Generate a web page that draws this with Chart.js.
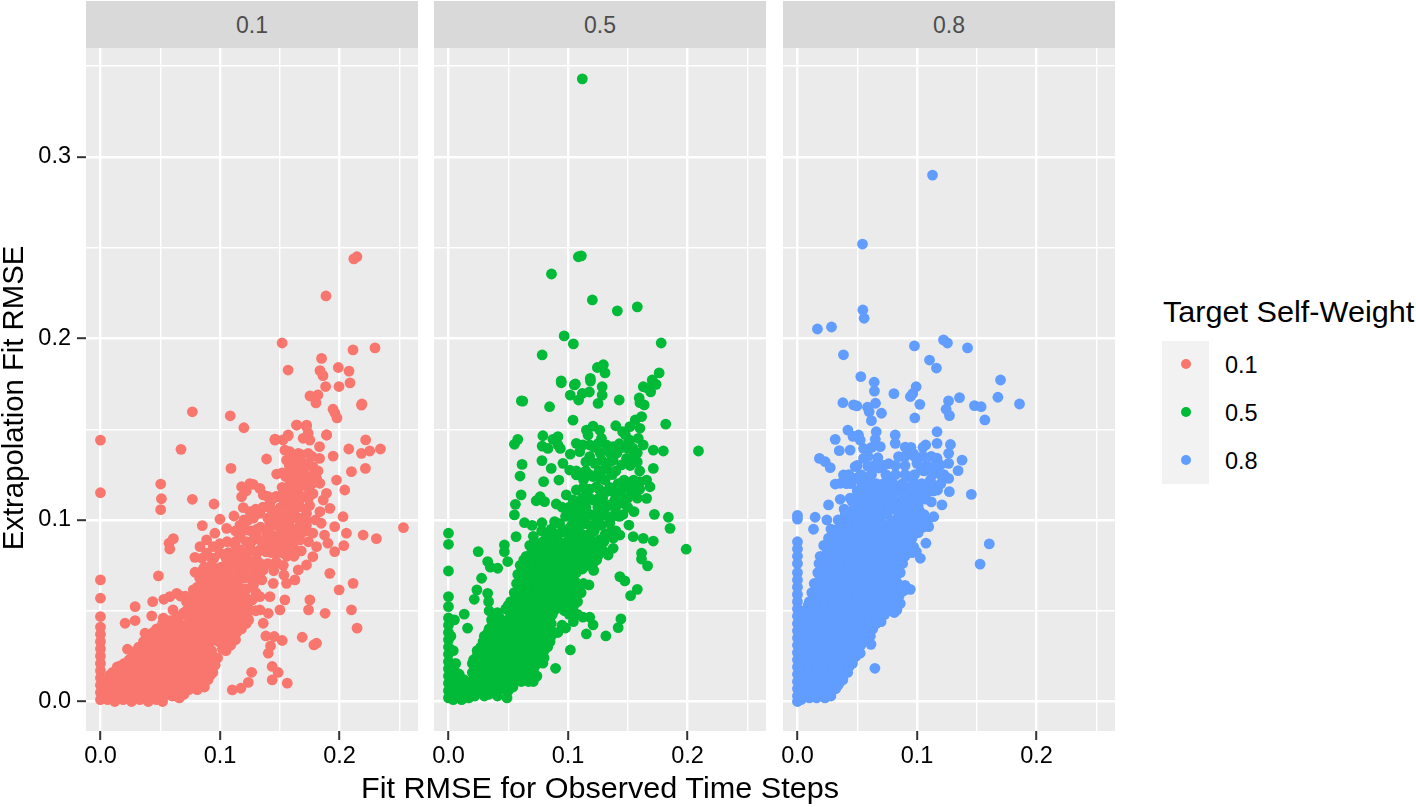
<!DOCTYPE html>
<html>
<head>
<meta charset="utf-8">
<title>Fit RMSE</title>
<script src="https://cdn.jsdelivr.net/npm/chart.js@4"></script>
<style>
    html, body { margin: 0; padding: 0; background: #fff; }
    body { width: 1416px; height: 807px; position: relative; overflow: hidden; font-family: "Liberation Sans", Arial, sans-serif; color: #000; filter: blur(0.45px); }
    canvas { position: absolute; top: 48px; }
    .strip { position: absolute; top: 1px; height: 47px; width: 332px; background: #D9D9D9; color: #4D4D4D; font-size: 23px; line-height: 49px; text-align: center; }
    .title { position: absolute; white-space: nowrap; font-size: 29.3px; line-height: 30px; }
    #legendKeys { position: absolute; left: 1162px; top: 341px; width: 47px; height: 143px; background: #F2F2F2; }
    .dot { position: absolute; left: 19px; width: 10px; height: 10px; border-radius: 50%; }
    .legendLabel { position: absolute; left: 1225px; font-size: 23.5px; line-height: 26px; }
</style>
</head>
<body>
<div class="strip" style="left:86px">0.1</div>
<div class="strip" style="left:434px">0.5</div>
<div class="strip" style="left:783px">0.8</div>
<canvas id="panelA" width="418" height="733" style="left:0"></canvas>
<canvas id="panelB" width="352" height="733" style="left:414px"></canvas>
<canvas id="panelC" width="352" height="733" style="left:763px"></canvas>
<div class="title" id="yTitle" style="left:-140px;top:383px;width:306px;text-align:center;transform:rotate(-90deg)">Extrapolation Fit RMSE</div>
<div class="title" id="xTitle" style="left:300px;top:773px;width:600px;text-align:center;transform:scaleX(1.045)">Fit RMSE for Observed Time Steps</div>
<div class="title" style="left:1163px;top:297px;transform:scaleX(1.045);transform-origin:left">Target Self-Weight</div>
<div id="legendKeys">
    <div class="dot" style="top:18px;background:#F8766D"></div>
    <div class="dot" style="top:66px;background:#00BA38"></div>
    <div class="dot" style="top:114px;background:#619CFF"></div>
</div>
<div class="legendLabel" style="top:352px">0.1</div>
<div class="legendLabel" style="top:400px">0.5</div>
<div class="legendLabel" style="top:448px">0.8</div>

<script>
// Ticks of the facets
const xMajorTicks = [0, 0.1, 0.2];
const xMinorTicks = [0.05, 0.15, 0.25];
const yMajorTicks = [0, 0.1, 0.2, 0.3];
const yMinorTicks = [0.05, 0.15, 0.25, 0.35];

// Points: [fit RMSE, extrapolation RMSE]
const pointsSelf01 = [
[.212,.2438],[.2146,.245],[.1887,.2234],[.152,.1975],[.157,.1826],[.2113,.1937],[.2297,.1948],[.185,.189],[.199,.184],[.208,.182],[.1837,.1823],[.1862,.1795],[.1884,.1735],[.1996,.1735],[.2088,.1755],[.1753,.1683],[.182,.1689],[.1803,.1645],[.2188,.1639],[.1946,.161],[.1962,.1589],[.1979,.1562],[.146,.1445],[.1527,.1441],[.1569,.1463],[.1642,.1523],[.1725,.1523],[.1893,.1468],[.2219,.1441],
[0,.144],[0,.115],[.0769,.1596],[.0674,.1389],[.1086,.1574],[.12,.1508],[.1092,.1284],[.139,.1336],[.0504,.1198],[.051,.1117],[.0504,.1057],[.0769,.1114],[.095,.1088],[.1,.1004],[.0852,.0969],[.1117,.1022],
[.061,.0897],[.0574,.0872],[.058,.084],[.0485,.0692],[0,.067],[0,.0569],[.0,.0468],[.029,.0523],[.0437,.055],[.0206,.0431],[.029,.0446],[.0429,.0472],[.0226,.0288],[.017,.0198],
[.2535,.0958],[.2309,.0897],[.2198,.0917],[.2058,.0927],[.2036,.0859],[.196,.0826],[.196,.0963],[.203,.1018],[.1919,.0706],[.1997,.0615],[.2114,.0651],[.21,.0505],[.2147,.0404],[.188,.0486],[.1752,.056],[.1741,.0505],
[.1688,.0354],[.1808,.0321],[.1786,.0312],[.1563,.0101],[.1437,.0119],[.1487,.016],[.1437,.0193],[.1237,.0105],[.1175,.0073],[.1103,.0064],[.1265,.0161],[.1404,.0266],[.1423,.0306],[.1521,.0336],[.1454,.0358],[.1384,.0361],
[.1362,.0431],[.1404,.0486],[.1502,.0505],[.1543,.056],[.2184,.1633],[.2078,.1391],[.2184,.1367],[.2217,.1284],
[.2253,.138],[.2343,.1391],[.21,.1266],[.1947,.1352],[.1891,.1468],
[.0833,.0853],[.0888,.089],[.0958,.0927],[.1056,.0954],[.1167,.0972],[.1237,.1],[.1334,.1037],[.1418,.1092],[.1501,.1128],[.1585,.1165],[.1641,.122],[.1613,.1275],[.1557,.133],[.1585,.1376],[.1655,.1367],[.1738,.1367],
[.1752,.144],[.1724,.1514],[.1641,.1523],[.1571,.1468],[.146,.144],[.1543,.1385],[.1738,.1477],[.1696,.145],[.1833,.1404],[.1833,.1339],[.1777,.1294],[.1696,.1312],[.1474,.1253],[.1557,.1239],[.1724,.1239],[.1808,.1229],
[.1836,.1202],[.1738,.1183],[.1975,.122],[.2044,.1165],[.1891,.1147],[.1864,.111],[.192,.1064],[.1836,.1046],[.1724,.1037],[.1668,.1073],[.1613,.111],[.1724,.0972],[.1847,.0982],[.1777,.0927],[.1875,.0917],[.1903,.0872],
[.1808,.0853],[.1777,.0798],[.1724,.0752],[.1655,.0725],[.1627,.067],[.1557,.0651],[.1535,.0697],[.1446,.0651],[.1668,.089],[.1613,.0853],[.1529,.0817],[.1473,.0761],[.1585,.0945],[.1501,.0963],[.1473,.0908],[.1557,.089],
[.1613,.0908],[.1473,.0853],[.1418,.0982],[.153,.1018],[.1585,.1037],[.139,.0927],[.1306,.0908],[.1334,.0835],[.1251,.0853],[.1306,.078],[.1362,.0725],[.1223,.0798],[.1167,.0835],[.1167,.0771],[.1265,.067],[.1334,.0578],
[.1418,.0578],[.1334,.0505],[.1167,.0908],[.1223,.0945],[.1181,.1128],[.1181,.1183],[.1278,.1196],[.1334,.1174],[.1251,.1046],[.1362,.1138],[.1195,.1068],[.1445,.1042],[.1505,.1068],[.1552,.1082],[.1642,.1012],[.1662,.0962],
[.1448,.0912],[.1425,.0872],[.1385,.0825],[.1545,.0985],[.1685,.0932],[.1585,.0835],[.1415,.1068],[.1528,.1172],[.1648,.1165],[.1592,.1258],[.1695,.1205],[.1778,.1145],
[.0889,.0817],[.1,.0817],[.0944,.0853],[.079,.0794],[.0791,.0712],[.0916,.0743],[.1083,.0688],[.1028,.0725],[.1139,.0633],[.1182,.0602],[.0777,.0615],[.0638,.0596],[.058,.0578],[.053,.0563],[.0607,.0505],[.0526,.0459],[.0373,.0376],[.058,.0445],[.0695,.0488],
[0,.001],[0,.005],[0,.009],[0,.013],[0,.017],[0,.021],[0,.025],[0,.029],[0,.033],[0,.037],[0,.041],
[.006,.001],[.012,0],[.019,.001],[.026,0],[.033,.001],[.04,0],[.047,.001],[.052,0],
[.007,.004],[.014,.005],[.021,.004],[.028,.004],[.035,.005],[.042,.004],[.049,.005],[.056,.004],[.063,.003],[.07,.004],
[.004,.008],[.011,.009],[.018,.008],[.025,.009],[.032,.008],[.039,.009],[.046,.008],[.053,.009],[.06,.008],[.067,.009],[.074,.008],[.081,.009],[.087,.008],
[.006,.012],[.013,.013],[.02,.012],[.027,.013],[.034,.012],[.041,.013],[.048,.012],[.055,.013],[.062,.012],[.069,.013],[.076,.012],[.083,.013],[.09,.012],
[.01,.016],[.017,.017],[.024,.016],[.031,.017],[.038,.016],[.045,.017],[.052,.016],[.059,.017],[.066,.016],[.073,.017],[.08,.016],[.087,.017],[.094,.016],
[.02,.021],[.027,.02],[.034,.021],[.041,.02],[.048,.021],[.055,.02],[.062,.021],[.069,.02],[.076,.021],[.083,.02],[.09,.021],[.096,.02],
[.027,.025],[.034,.026],[.041,.025],[.048,.026],[.055,.025],[.062,.026],[.069,.025],[.076,.026],[.083,.025],[.09,.026],[.098,.024],
[.032,.03],[.039,.031],[.046,.03],[.053,.031],[.06,.03],[.067,.031],[.074,.03],[.081,.031],[.088,.03],[.102,.029],[.109,.031],
[.041,.035],[.048,.036],[.055,.035],[.062,.036],[.069,.035],[.076,.036],[.083,.035],[.09,.036],[.097,.035],[.104,.036],[.113,.034],
[.047,.04],[.054,.041],[.061,.04],[.068,.041],[.075,.04],[.082,.041],[.089,.04],[.096,.041],[.103,.04],[.11,.041],[.118,.04],
[.062,.045],[.075,.046],[.082,.045],[.089,.046],[.096,.045],[.103,.046],[.11,.045],[.117,.046],[.124,.045],
[.072,.05],[.079,.051],[.086,.05],[.093,.051],[.1,.05],[.107,.051],[.114,.05],[.121,.051],
[.075,.055],[.082,.056],[.089,.055],[.096,.056],[.103,.055],[.11,.056],[.117,.055],[.124,.056],
[.083,.06],[.09,.061],[.097,.06],[.104,.061],[.111,.06],[.118,.061],
[.085,.065],[.092,.066],[.099,.065],[.106,.066],[.113,.065],
[.092,.071],[.099,.07],[.106,.071],
[.004,.003],[.011,.003],[.018,.003],[.025,.003],[.032,.003],[.039,.003],[.046,.003],[.053,.003],[.06,.003],[.066,.002],
[.004,.0065],[.011,.0065],[.018,.0065],[.025,.0065],[.032,.0065],[.039,.0065],[.046,.0065],[.053,.0065],[.06,.0065],[.067,.0065],[.074,.0065],[.081,.0065],
[.008,.0105],[.015,.0105],[.022,.0105],[.029,.0105],[.036,.0105],[.043,.0105],[.05,.0105],[.057,.0105],[.064,.0105],[.071,.0105],[.078,.0105],[.085,.0105],
[.008,.0145],[.015,.0145],[.022,.0145],[.029,.0145],[.036,.0145],[.043,.0145],[.05,.0145],[.057,.0145],[.064,.0145],[.071,.0145],[.078,.0145],[.085,.0145],[.092,.0145],
[.014,.019],[.021,.019],[.028,.019],[.035,.019],[.042,.019],[.049,.019],[.056,.019],[.063,.019],[.07,.019],[.077,.019],[.084,.019],[.091,.019],
[.024,.023],[.031,.023],[.038,.023],[.045,.023],[.052,.023],[.059,.023],[.066,.023],[.073,.023],[.08,.023],[.087,.023],[.094,.023],
[.03,.028],[.037,.028],[.044,.028],[.051,.028],[.058,.028],[.065,.028],[.072,.028],[.079,.028],[.086,.028],[.093,.028],[.105,.028],
[.036,.033],[.043,.033],[.05,.033],[.057,.033],[.064,.033],[.071,.033],[.078,.033],[.085,.033],[.092,.033],[.099,.033],[.107,.033],
[.044,.038],[.051,.038],[.058,.038],[.065,.038],[.072,.038],[.079,.038],[.086,.038],[.093,.038],[.1,.038],[.107,.038],[.114,.038],
[.052,.043],[.059,.043],[.066,.043],[.073,.043],[.08,.043],[.087,.043],[.094,.043],[.101,.043],[.108,.043],[.115,.043],[.122,.043],
[.069,.048],[.076,.048],[.083,.048],[.09,.048],[.097,.048],[.104,.048],[.111,.048],[.118,.048],
[.074,.053],[.081,.053],[.088,.053],[.095,.053],[.102,.053],[.109,.053],[.116,.053],[.123,.053],
[.079,.058],[.086,.058],[.093,.058],[.1,.058],[.107,.058],[.114,.058],[.121,.058],
[.081,.063],[.088,.063],[.095,.063],[.102,.063],[.109,.063],[.116,.063],
[.089,.068],[.096,.068],[.103,.068],[.11,.068],
[.087,.074],[.094,.074],[.101,.074],[.108,.074],[.113,.074],
[.085,.079],[.093,.079],[.105,.079],[.112,.079],
[.126,.094],[.134,.096],[.14,.101],[.146,.097],[.152,.093],[.158,.099],[.163,.094],[.169,.099],[.148,.105],[.155,.112],[.162,.105],[.168,.112],[.175,.108],[.18,.1],[.135,.088],[.143,.082],[.15,.087],[.156,.08],[.162,.08],[.168,.083],[.174,.088],[.145,.072],[.153,.075],[.128,.073],[.122,.088],[.112,.087],[.128,.064],[.135,.067],[.13,.06],[.127,.056],
[.165,.117],[.171,.113],[.177,.12],[.17,.127],[.165,.132],[.177,.135],[.182,.127],[.16,.12],[.152,.126],[.147,.113],[.14,.113],[.122,.116],[.125,.12],[.106,.077],[.112,.075],[.095,.079],[.1,.087],[.086,.073],[.083,.068],[.12,.068],[.12,.074],[.072,.055],[.067,.058],[.064,.047],[.071,.058],
[.115,.07],[.121,.07],[.127,.069],[.133,.07],[.122,.076],[.128,.077],[.134,.076],[.14,.076],[.147,.077],[.107,.082],[.113,.082],[.119,.082],[.125,.083],[.131,.082],[.148,.082],[.155,.083],
[.106,.088],[.113,.088],[.128,.089],[.137,.088],[.144,.088],[.152,.087],[.16,.088],[.113,.094],[.119,.094],[.131,.095],[.14,.094],[.155,.094],[.161,.095],[.172,.094],
[.12,.1],[.128,.101],[.146,.1],[.152,.101],[.158,.1],[.166,.101],[.172,.1],[.13,.106],[.136,.107],[.15,.106],[.158,.106],[.165,.107],[.172,.106],
[.145,.112],[.152,.112],[.16,.113],[.174,.112],[.152,.118],[.158,.119],[.165,.118],[.171,.119],[.155,.124],[.163,.125],[.168,.124],[.176,.124],[.158,.13],[.164,.13],[.173,.131],[.16,.135],[.168,.136],
[.125,.05],[.13,.05],[.122,.062]
];

const pointsSelf05 = [
[.112,.343],[.1112,.2455],[.1087,.245],[.0862,.2355],[.1204,.2212],[.1413,.2152],[.158,.2174],[.0968,.2014],[.1045,.197],[.178,.1975],[.0784,.1909],[.1296,.1855],[.1246,.184],[.131,.181],[.1187,.178],[.0943,.1766],
[.1053,.1744],[.1763,.181],[.1705,.1771],[.1663,.1727],[.1596,.1672],[.1179,.1705],[.061,.1656],[.1429,.1661],[.1638,.1634],[.1563,.1551],
[.0622,.1655],[.0846,.1624],[.0944,.1756],[.1062,.1749],[.1188,.1765],[.1286,.1734],[.1286,.1688],[.1252,.1642],[.1019,.1688],[.112,.1697],[.1089,.1661],[.1042,.155],[.163,.1734],[.1737,.1747],[.1692,.1706],[.1602,.1646],
[.1616,.1569],[.1818,.1528],[.14,.1519],[.1457,.1486],[.1518,.1514],[.1602,.1505],[.1154,.1495],[.121,.1517],[.1266,.1495],[.1168,.1468],[.128,.145],[.1322,.1413],[.1378,.1404],[.079,.1464],[.0874,.1444],[.0916,.1459],
[.0784,.1407],[.0832,.1394],[.0916,.1413],[.0936,.1394],[.058,.1444],[.0552,.1417],[.107,.1422],[.1019,.1363],[.1126,.1413],[.1182,.1413],[.1098,.1376],[.1182,.1349],[.1224,.1312],[.1518,.144],[.1588,.145],[.1504,.1394],
[.163,.1413],[.1714,.1385],[.1798,.138],[.2092,.138],[.1545,.1395],[.149,.1339],[.1448,.1303],[.1378,.133],[.1322,.1284],[.1714,.1284],[.1658,.122],[.1686,.1183],[.1602,.1211],[.1532,.1193],[.1658,.1119],[.1448,.1165],
[.0616,.1306],[.0599,.1242],[.0782,.1327],[.0796,.1211],[.086,.1284],[.0924,.122],[.0958,.1312],[.1014,.1275],[.107,.1248],[.1126,.1257],[.121,.1239],[.1294,.1275],[.1364,.1257],[.0608,.1138],[.056,.1086],[.0767,.1128],
[.0734,.1106],[.0804,.1101],[.0902,.1088],[.0986,.1138],[.107,.1165],[.1155,.1145],[.1238,.1183],[.1322,.1156],[.1392,.111],[.1462,.1092],[.135,.1083],[.1042,.111],[.1085,.1085],[.121,.111],[.128,.1073],
[.1552,.1046],[.1723,.1031],[.184,.1015],[.1854,.0954],[.1989,.0839],[.1714,.0884],[.163,.0899],[.1546,.0908],[.1434,.0917],[.151,.0972],[.135,.0982],[.1305,.1025],[.1154,.1037],[.1238,.0982],[.112,.0995],[.1042,.1037],
[.0552,.1028],[.0636,.0985],[.0566,.0908],[.0782,.0985],[.0888,.0991],[.0958,.0945],[.1014,.0917],[.1098,.0908],[.118,.0905],[.1266,.089],[.1336,.0807],[.1378,.0844],[.1295,.083],[.121,.0761],[.1215,.0722],
[.1616,.0817],[.1666,.0747],[.1434,.0688],[.1476,.0664],[.158,.0618],[.1524,.0583],[.1176,.0642],[.1615,.0785],
[.0249,.0826],[.0468,.0862],[.0468,.0825],[.0328,.0771],[.0412,.0734],[.0496,.0771],[.0277,.0679],[.0238,.0615],[.0216,.0563],[.0328,.0596],[.0336,.055],[.035,.074],
[0,.0927],[0,.0866],[0,.0719],[0,.0578],[0,.0523],[.0132,.0481],[.016,.0404],
[.102,.0284],[.0896,.0183],[.1317,.0361],[.1443,.0455],[.142,.0407],[.1154,.0372],[.121,.0422],[.1182,.0464],[.1125,.0465],[.1045,.044],[.098,.0405],[.0915,.038],[.079,.0211],[.0765,.0255],
[.0,.046],[0,.042],[0,.038],[0,.034],[0,.03],[0,.026],[0,.022],[0,.018],[0,.014],[0,.01],[0,.006],[0,.002],[.005,.045],[.004,.028],[.006,.021],[.002,.036],
[.004,.001],[.011,.001],[.017,.002],[.006,.005],[.013,.005],[.02,.004],[.027,.005],[.034,.004],[.041,.003],[.049,.002],
[.005,.009],[.012,.008],[.019,.009],[.026,.008],[.033,.009],[.04,.008],[.047,.009],[.054,.008],
[.006,.013],[.013,.012],[.022,.013],[.029,.012],[.036,.013],[.043,.012],[.05,.013],[.057,.012],[.064,.013],[.071,.011],
[.005,.017],[.02,.016],[.027,.017],[.034,.016],[.041,.017],[.048,.016],[.055,.017],[.062,.016],[.069,.017],[.074,.014],
[.02,.021],[.027,.02],[.034,.021],[.041,.02],[.048,.021],[.055,.02],[.062,.021],[.069,.02],[.074,.021],
[.024,.025],[.031,.026],[.038,.025],[.045,.026],[.052,.025],[.059,.026],[.066,.025],[.073,.026],[.08,.024],
[.027,.03],[.034,.031],[.041,.03],[.048,.031],[.055,.03],[.062,.031],[.069,.03],[.076,.031],[.083,.03],
[.03,.036],[.037,.035],[.044,.036],[.051,.035],[.058,.036],[.065,.035],[.072,.036],[.079,.035],[.086,.036],
[.034,.04],[.041,.041],[.048,.04],[.055,.041],[.062,.04],[.069,.041],[.076,.04],[.083,.041],[.095,.042],
[.036,.045],[.043,.046],[.05,.045],[.057,.046],[.064,.045],[.071,.046],[.078,.045],[.085,.046],
[.034,.05],[.041,.049],[.048,.051],[.055,.05],[.062,.051],[.069,.05],[.076,.051],[.083,.05],[.09,.051],[.097,.05],[.104,.051],
[.052,.055],[.059,.056],[.066,.055],[.073,.056],[.08,.055],[.087,.056],[.094,.055],[.101,.056],[.108,.055],
[.055,.06],[.062,.061],[.069,.06],[.076,.061],[.083,.06],[.09,.061],[.097,.06],[.104,.061],[.111,.06],
[.057,.065],[.064,.066],[.071,.065],[.078,.066],[.085,.065],[.092,.066],[.099,.065],[.106,.066],[.113,.065],
[.058,.07],[.065,.071],[.072,.07],[.079,.071],[.086,.07],[.093,.071],[.1,.07],[.107,.071],
[.06,.075],[.067,.076],[.074,.075],[.081,.076],[.088,.075],[.095,.076],[.102,.075],[.109,.076],[.116,.075],
[.065,.08],[.072,.081],[.079,.08],[.086,.081],[.093,.08],[.1,.081],[.107,.08],[.114,.081],[.125,.08],
[.068,.086],[.075,.085],[.082,.086],[.09,.085],[.097,.086],[.104,.085],[.111,.086],[.118,.085],[.127,.085],
[.071,.091],[.082,.09],[.091,.092],[.112,.092],[.131,.092],[.138,.09],
[.002,.003],[.008,.003],[.015,.003],[.022,.003],[.03,.003],
[.003,.007],[.01,.007],[.017,.007],[.024,.007],[.031,.007],[.038,.007],[.045,.007],[.05,.006],
[.003,.011],[.01,.011],[.018,.011],[.026,.011],[.033,.011],[.04,.011],[.047,.011],[.054,.011],[.061,.011],[.067,.011],
[.009,.015],[.024,.015],[.031,.015],[.038,.015],[.045,.015],[.052,.015],[.059,.015],[.066,.015],[.072,.015],
[.023,.019],[.03,.019],[.037,.019],[.044,.019],[.051,.019],[.058,.019],[.065,.019],[.072,.019],
[.021,.023],[.028,.023],[.035,.023],[.042,.023],[.049,.023],[.056,.023],[.063,.023],[.07,.023],[.077,.023],
[.024,.028],[.031,.028],[.038,.028],[.045,.028],[.052,.028],[.059,.028],[.066,.028],[.073,.028],[.08,.028],
[.029,.033],[.036,.033],[.043,.033],[.05,.033],[.057,.033],[.064,.033],[.071,.033],[.078,.033],[.085,.033],
[.033,.038],[.04,.038],[.047,.038],[.054,.038],[.061,.038],[.068,.038],[.075,.038],[.082,.038],[.088,.038],
[.037,.043],[.044,.043],[.051,.043],[.058,.043],[.065,.043],[.072,.043],[.079,.043],[.086,.043],
[.04,.048],[.052,.048],[.059,.048],[.066,.048],[.073,.048],[.08,.048],[.087,.048],[.101,.048],[.108,.048],
[.05,.053],[.056,.053],[.063,.053],[.07,.053],[.077,.053],[.084,.053],[.091,.053],[.098,.053],[.105,.053],
[.058,.058],[.065,.058],[.072,.058],[.079,.058],[.086,.058],[.093,.058],[.1,.058],[.107,.058],
[.06,.063],[.067,.063],[.074,.063],[.081,.063],[.088,.063],[.095,.063],[.102,.063],[.109,.063],
[.062,.068],[.069,.068],[.076,.068],[.083,.068],[.09,.068],[.097,.068],[.104,.068],
[.063,.073],[.07,.073],[.077,.073],[.084,.073],[.091,.073],[.098,.073],[.105,.073],[.112,.073],
[.063,.078],[.07,.078],[.084,.078],[.098,.078],[.112,.078],
[.07,.083],[.077,.083],[.091,.083],[.105,.083],[.12,.083],
[.072,.088],[.086,.088],[.1,.088],[.115,.088],[.122,.088],
[.078,.094],[.086,.095],[.093,.098],[.1,.095],[.107,.095],[.115,.098],[.122,.094],[.128,.097],[.105,.101],[.11,.104],[.119,.103],[.125,.104],[.132,.107],[.14,.104],[.146,.103],[.139,.115],[.129,.112],[.135,.118],[.142,.12],[.148,.121],[.155,.115],[.113,.118],[.118,.125],[.127,.123],[.137,.125],[.128,.133],[.122,.14],[.141,.137],[.152,.13],[.155,.135],[.146,.14],[.148,.147],[.126,.098],[.133,.092],[.14,.094],
[.077,.078],[.091,.078],[.105,.078],[.118,.078],[.124,.078],[.084,.083],[.098,.083],[.112,.083],[.128,.083],[.079,.088],[.093,.088],[.107,.088],[.13,.088],[.084,.093],[.098,.093],[.105,.093],[.119,.093],[.135,.093],
[.07,.097],[.103,.097],[.11,.097],[.12,.097],[.098,.102],[.115,.102],[.123,.102],[.137,.102],[.143,.102],[.095,.107],[.101,.107],[.115,.107],[.125,.107],[.14,.107],[.15,.107],
[.112,.112],[.118,.112],[.126,.112],[.143,.112],[.15,.112],[.158,.112],[.118,.117],[.126,.117],[.145,.117],[.152,.117],[.16,.117],[.113,.122],[.131,.122],[.147,.122],[.155,.122],
[.107,.127],[.115,.127],[.126,.127],[.14,.127],[.16,.127],[.115,.132],[.135,.132],[.158,.132],[.127,.137],[.135,.137],[.158,.137],[.125,.142],[.143,.142],[.15,.142]
];

const pointsSelf08 = [
[.113,.29],[.0544,.252],[.0547,.2157],[.0558,.2111],[.0285,.2063],[.0167,.2052],[.0385,.191],[.0979,.1959],[.1222,.1992],[.1255,.1975],[.1423,.1948],[.1105,.1881],[.1163,.1837],[.1699,.1771],
[.1858,.1639],[.053,.179],[.0642,.1759],[.0644,.171],[.0807,.1696],[.0993,.1734],[.0965,.1697],[.0945,.168],[.1024,.1637],[.1264,.1656],[.1356,.1674],[.1244,.161],[.1272,.1575],[.1481,.163],[.1537,.1624],[.1677,.1676],[.1568,.1551],
[.038,.1646],[.0469,.1634],[.0497,.1628],[.0586,.1621],[.06,.1597],[.0653,.1643],[.0703,.1588],[.0619,.1547],[.0982,.1562],
[.1168,.1486],[.1073,.1413],[.1168,.1422],[.128,.1416],[.1265,.1367],[.1265,.1312],[.1377,.133],[.1344,.1272],[.1455,.1141],[.1209,.1083],[.1271,.1156],[.1265,.1229],
[.0422,.1495],[.0511,.1468],[.0659,.1486],[.0818,.1468],[.0818,.1422],[.0651,.1444],[.0693,.1404],[.0316,.1444],[.035,.1382],[.0441,.1385],[.0553,.1394],[.0673,.1343],[.0184,.1339],[.0232,.1321],[.0274,.1288],[.0525,.144],
[.0465,.146],[.0553,.1339],[.0763,.131],[.0902,.1401],[.0972,.1365],[.0846,.1349],[.1,.1312],[.1168,.134],[.1098,.1284],[.1196,.1303],[.0385,.1248],[.0483,.1294],[.0679,.1286],[.0316,.1198],[.0358,.1202],[.0553,.1239],
[.0455,.1222],[.093,.1239],[.1112,.122],[.1225,.125],[.1002,.118],[.1172,.1165],[.1075,.1115],[.09,.13],[.1035,.1275],[.059,.1295],[.0765,.122],[.0825,.117],[.0905,.118],
[0,.1025],[0,.1005],[.0148,.1015],[.0134,.0949],[.0246,.1],[.026,.1083],[.0358,.1114],[.0441,.112],[.0,.088],[0,.084],[0,.08],[0,.076],[0,.071],[0,.067],[0,.063],[0,.059],[0,.055],[0,.051],[0,.047],[0,.043],[0,.039],[0,.035],[0,.031],[0,.027],[0,.023],[0,.019],[0,.015],[0,.011],[0,.007],[0,.003],[0,0],
[.1028,.0789],[.1075,.0872],[.1098,.0963],[.114,.1018],[.0944,.0618],[.0832,.0505],[.0648,.0183],[.0525,.0266],[.0972,.0852],[.0995,.0825],[.0615,.0315],
[.1605,.0868],[.1528,.0757],
[.003,.001],[.002,.005],[.009,.004],[.016,.005],[.023,.004],[.028,.003],
[.007,.009],[.014,.008],[.021,.009],[.028,.008],[.034,.009],
[.005,.013],[.012,.012],[.019,.013],[.026,.012],[.033,.013],[.038,.012],
[.007,.017],[.014,.016],[.021,.017],[.028,.016],[.035,.017],[.042,.016],
[.005,.021],[.012,.02],[.019,.021],[.026,.02],[.033,.021],[.04,.02],[.046,.021],
[.007,.025],[.014,.026],[.021,.025],[.028,.026],[.035,.025],[.042,.026],[.049,.025],
[.005,.03],[.012,.031],[.019,.03],[.026,.031],[.033,.03],[.04,.031],[.047,.03],[.053,.031],
[.007,.036],[.014,.035],[.021,.036],[.028,.035],[.035,.036],[.042,.035],[.049,.036],[.056,.035],[.061,.036],
[.005,.04],[.012,.041],[.019,.04],[.026,.041],[.033,.04],[.04,.041],[.047,.04],[.054,.041],[.063,.04],
[.007,.045],[.014,.046],[.021,.045],[.028,.046],[.035,.045],[.042,.046],[.049,.045],[.056,.046],[.063,.045],[.07,.044],
[.006,.05],[.013,.051],[.02,.05],[.027,.051],[.034,.05],[.041,.051],[.048,.05],[.055,.051],[.062,.05],[.069,.051],[.076,.05],[.081,.049],
[.01,.055],[.017,.056],[.024,.055],[.031,.056],[.038,.055],[.045,.056],[.052,.055],[.059,.056],[.066,.055],[.073,.056],[.08,.055],[.086,.054],
[.012,.06],[.019,.061],[.026,.06],[.033,.061],[.04,.06],[.047,.061],[.054,.06],[.061,.061],[.068,.06],[.075,.061],[.082,.06],[.089,.061],
[.014,.065],[.021,.066],[.028,.065],[.035,.066],[.042,.065],[.049,.066],[.056,.065],[.063,.066],[.07,.065],[.077,.066],[.084,.065],[.09,.064],
[.017,.071],[.024,.07],[.031,.071],[.038,.07],[.045,.071],[.052,.07],[.059,.071],[.066,.07],[.073,.071],[.08,.07],[.086,.071],
[.018,.076],[.025,.075],[.032,.076],[.039,.075],[.046,.076],[.053,.075],[.06,.076],[.067,.075],[.074,.076],[.081,.075],[.088,.076],
[.019,.08],[.026,.081],[.033,.08],[.04,.081],[.047,.08],[.054,.081],[.061,.08],[.068,.081],[.075,.08],[.082,.081],[.09,.08],[.096,.082],
[.022,.086],[.029,.085],[.036,.086],[.043,.085],[.05,.086],[.057,.085],[.064,.086],[.071,.085],[.078,.086],[.085,.085],[.092,.086],
[.026,.09],[.033,.091],[.04,.09],[.047,.091],[.054,.09],[.061,.09],[.068,.091],[.075,.09],[.082,.091],[.089,.09],[.096,.09],
[.028,.095],[.035,.096],[.042,.095],[.049,.096],[.056,.095],[.063,.096],[.07,.095],[.077,.096],[.084,.095],[.091,.096],[.098,.095],[.105,.096],
[.034,.1],[.041,.101],[.048,.1],[.055,.101],[.062,.1],[.069,.101],[.082,.1],[.089,.101],[.096,.1],[.103,.101],[.109,.1],
[.039,.106],[.046,.105],[.053,.106],[.06,.105],[.067,.106],[.074,.105],[.081,.106],[.088,.105],[.095,.106],[.102,.105],
[.046,.11],[.058,.111],[.065,.11],[.072,.111],[.084,.11],[.091,.111],[.098,.11],[.106,.112],
[.057,.115],[.07,.116],[.086,.116],[.094,.115],[.102,.116],[.11,.116],
[.041,.12],[.049,.123],[.06,.12],[.072,.12],[.097,.121],[.106,.127],[.114,.128],
[.004,.002],[.01,.002],[.016,.002],[.023,.002],
[.004,.007],[.011,.007],[.018,.007],[.025,.007],[.032,.007],
[.003,.011],[.009,.011],[.016,.011],[.023,.011],[.03,.011],[.036,.011],
[.004,.015],[.011,.015],[.018,.015],[.025,.015],[.032,.015],[.038,.015],
[.003,.019],[.009,.019],[.016,.019],[.023,.019],[.03,.019],[.037,.019],[.043,.019],
[.004,.023],[.011,.023],[.018,.023],[.025,.023],[.032,.023],[.039,.023],[.046,.023],
[.003,.028],[.009,.028],[.016,.028],[.023,.028],[.03,.028],[.037,.028],[.044,.028],[.051,.028],
[.004,.033],[.011,.033],[.018,.033],[.025,.033],[.032,.033],[.039,.033],[.046,.033],[.053,.033],
[.003,.038],[.009,.038],[.016,.038],[.023,.038],[.03,.038],[.037,.038],[.044,.038],[.051,.038],[.058,.038],
[.004,.043],[.011,.043],[.018,.043],[.025,.043],[.032,.043],[.039,.043],[.046,.043],[.053,.043],[.06,.043],[.066,.043],
[.003,.048],[.01,.048],[.017,.048],[.024,.048],[.031,.048],[.038,.048],[.045,.048],[.052,.048],[.059,.048],[.066,.048],[.073,.048],
[.009,.053],[.016,.053],[.023,.053],[.03,.053],[.037,.053],[.044,.053],[.051,.053],[.058,.053],[.065,.053],[.072,.053],[.079,.053],[.084,.053],
[.015,.058],[.022,.058],[.029,.058],[.036,.058],[.043,.058],[.05,.058],[.057,.058],[.064,.058],[.071,.058],[.078,.058],[.085,.058],
[.017,.063],[.024,.063],[.031,.063],[.038,.063],[.045,.063],[.052,.063],[.059,.063],[.066,.063],[.073,.063],[.08,.063],[.087,.063],
[.019,.068],[.026,.068],[.033,.068],[.04,.068],[.047,.068],[.054,.068],[.061,.068],[.068,.068],[.075,.068],[.082,.068],
[.021,.073],[.028,.073],[.035,.073],[.042,.073],[.049,.073],[.056,.073],[.063,.073],[.07,.073],[.077,.073],[.084,.073],
[.022,.078],[.029,.078],[.036,.078],[.043,.078],[.05,.078],[.057,.078],[.064,.078],[.071,.078],[.078,.078],[.085,.078],
[.025,.083],[.032,.083],[.039,.083],[.046,.083],[.053,.083],[.06,.083],[.067,.083],[.074,.083],[.081,.083],[.088,.083],
[.029,.088],[.036,.088],[.043,.088],[.05,.088],[.057,.088],[.064,.088],[.071,.088],[.078,.088],[.085,.088],[.092,.088],
[.031,.093],[.038,.093],[.045,.093],[.052,.093],[.059,.093],[.066,.093],[.073,.093],[.08,.093],[.087,.093],[.094,.093],[.101,.093],
[.036,.098],[.043,.098],[.05,.098],[.057,.098],[.064,.098],[.071,.098],[.078,.098],[.085,.098],[.092,.098],[.099,.098],[.106,.098],
[.04,.103],[.047,.103],[.054,.103],[.061,.103],[.068,.103],[.075,.103],[.085,.103],[.092,.103],[.099,.103],[.106,.103],
[.048,.108],[.055,.108],[.062,.108],[.069,.108],[.076,.108],[.087,.108],[.094,.108],[.101,.108],
[.06,.113],[.068,.113],[.075,.113],[.089,.113],[.097,.113],[.104,.113],
[.05,.116],[.064,.116],[.078,.116],[.098,.116],[.106,.116],[.114,.116],[.045,.12],[.054,.12],[.066,.12],[.08,.12],[.088,.12],[.104,.12],[.112,.12],[.12,.12],
[.043,.125],[.053,.125],[.062,.125],[.074,.125],[.082,.125],[.09,.125],[.098,.125],[.113,.125],[.12,.125],[.05,.13],[.064,.13],[.072,.13],[.082,.13],[.108,.13],[.115,.13],
[.059,.135],[.09,.135],[.098,.135],[.105,.135],[.112,.135],[.062,.14],[.095,.14],[.105,.14],[.05,.112],[.08,.112],[.112,.11]
];

const colorSelf01 = "#F8766D";
const colorSelf05 = "#00BA38";
const colorSelf08 = "#619CFF";

// Grey background of the panel, under the grid lines
const panelBackground = {
    id: "panelBackground",
    beforeDraw: function (chart) {
        const area = chart.chartArea;
        chart.ctx.fillStyle = "#EBEBEB";
        chart.ctx.fillRect(area.left, area.top, area.width, area.height);
    }
};

function isMajor(list, value) {
    return list.indexOf(value) !== -1;
}

// Chart.js pads the chart for tick labels that stick out, the panels must not move
function noPadding(scale) {
    scale.paddingLeft = 0;
    scale.paddingRight = 0;
    scale.paddingTop = 0;
    scale.paddingBottom = 0;
}

function drawPanel(canvasId, points, color, leftSpace, showYLabels) {
    const ctx = document.getElementById(canvasId).getContext("2d");

    new Chart(ctx, {
        type: "scatter",
        data: {
            datasets: [{
                data: points.map(function (p) { return { x: p[0], y: p[1] }; }),
                backgroundColor: color,
                borderWidth: 0,
                pointRadius: 5.4
            }]
        },
        plugins: [panelBackground],
        options: {
            responsive: false,
            animation: false,
            layout: { padding: 0, autoPadding: false },
            plugins: { legend: { display: false }, tooltip: { enabled: false } },
            scales: {
                x: {
                    type: "linear",
                    min: -0.0121,
                    max: 0.2657,
                    afterBuildTicks: function (scale) {
                        scale.ticks = xMajorTicks.concat(xMinorTicks).sort().map(function (v) { return { value: v }; });
                    },
                    afterFit: function (scale) { scale.height = 50; noPadding(scale); },
                    border: { display: false },
                    grid: {
                        color: "#FFFFFF",
                        lineWidth: function (c) { return isMajor(xMajorTicks, c.tick.value) ? 2.4 : 1.4; },
                        tickColor: function (c) { return isMajor(xMajorTicks, c.tick.value) ? "#333333" : "rgba(0,0,0,0)"; },
                        tickWidth: 2,
                        tickLength: 9
                    },
                    ticks: {
                        autoSkip: false,
                        maxRotation: 0,
                        color: "#000000",
                        padding: 2,
                        font: { family: "Liberation Sans", size: 23.5 },
                        callback: function (v) { return isMajor(xMajorTicks, v) ? v.toFixed(1) : ""; }
                    }
                },
                y: {
                    type: "linear",
                    min: -0.01625,
                    max: 0.36,
                    afterBuildTicks: function (scale) {
                        scale.ticks = yMajorTicks.concat(yMinorTicks).sort().map(function (v) { return { value: v }; });
                    },
                    afterFit: function (scale) { scale.width = leftSpace; noPadding(scale); },
                    border: { display: false },
                    grid: {
                        color: "#FFFFFF",
                        lineWidth: function (c) { return isMajor(yMajorTicks, c.tick.value) ? 2.4 : 1.4; },
                        tickColor: function (c) { return showYLabels && isMajor(yMajorTicks, c.tick.value) ? "#333333" : "rgba(0,0,0,0)"; },
                        tickWidth: 2,
                        tickLength: 9
                    },
                    ticks: {
                        display: showYLabels,
                        autoSkip: false,
                        color: "#000000",
                        padding: 6,
                        font: { family: "Liberation Sans", size: 23.5 },
                        callback: function (v) { return isMajor(yMajorTicks, v) ? v.toFixed(1) : ""; }
                    }
                }
            }
        }
    });
}

drawPanel("panelA", pointsSelf01, colorSelf01, 86, true);
drawPanel("panelB", pointsSelf05, colorSelf05, 20, false);
drawPanel("panelC", pointsSelf08, colorSelf08, 20, false);
</script>
</body>
</html>
